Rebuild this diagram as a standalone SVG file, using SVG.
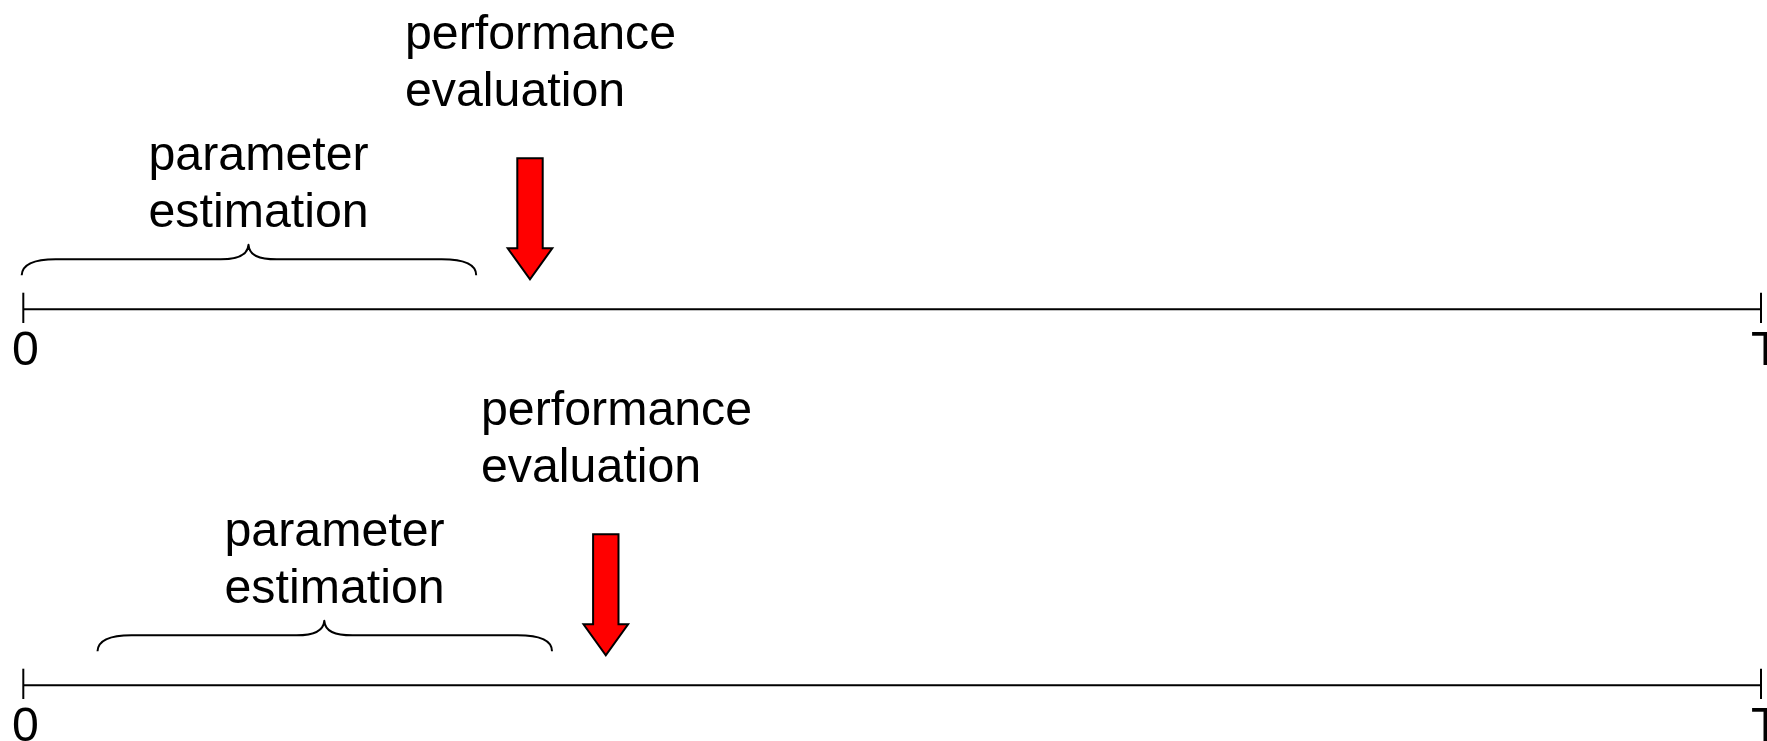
<svg xmlns="http://www.w3.org/2000/svg" width="1767" height="741" viewBox="0 0 1767 741">
  <defs>
    <style>
      .label { font-family: "Liberation Sans", Arial, sans-serif; font-size: 48.3px; fill: #000; }
      .axis { stroke: #000; stroke-width: 2; fill: none; }
      .brace { stroke: #000; stroke-width: 2; fill: none; stroke-linejoin: round; }
      .marker-arrow { fill: #ff0000; stroke: #000; stroke-width: 2; stroke-linejoin: miter; }
    </style>
    <!-- curly brace spanning the estimation window, origin at its left end -->
    <path id="brace-shape" d="M 0,16 C 0.5,5 12,0 34,0 L 199,0 C 216,0 226,-4 226.8,-14.5 C 227.6,-4 237,0 255,0 L 420,0 C 442,0 454.5,5 454.5,16"/>
    <!-- red down arrow, tip at origin -->
    <path id="arrow-shape" d="M -12.7,-121 L 12.7,-121 L 12.7,-31 L 22.3,-31 L 0,0 L -22.3,-31 L -12.7,-31 Z"/>
  </defs>

  <!-- timelines -->
  <g id="connectors">
    <g id="axis-1">
      <line class="axis" x1="23.3" y1="309.3" x2="1761" y2="309.3"/>
      <line class="axis" x1="23.3" y1="292.7" x2="23.3" y2="323"/>
      <line class="axis" x1="1761" y1="292.7" x2="1761" y2="323"/>
    </g>
    <g id="axis-2">
      <line class="axis" x1="23.3" y1="685.3" x2="1761" y2="685.3"/>
      <line class="axis" x1="23.3" y1="668.7" x2="23.3" y2="699"/>
      <line class="axis" x1="1761" y1="668.7" x2="1761" y2="699"/>
    </g>
  </g>

  <!-- first scenario -->
  <g id="tick-labels-1">
    <text class="label" x="12" y="365">0</text>
    <text class="label" x="1751" y="365">T</text>
  </g>
  <g id="estimation-1">
    <use href="#brace-shape" class="brace" x="21.7" y="259.3"/>
    <text class="label" x="148.5" y="170">parameter</text>
    <text class="label" x="148.5" y="226.5">estimation</text>
  </g>
  <g id="evaluation-1">
    <use href="#arrow-shape" class="marker-arrow" x="530" y="279.3"/>
    <text class="label" x="405" y="48.5">performance</text>
    <text class="label" x="405" y="105.5">evaluation</text>
  </g>

  <!-- second scenario, window shifted right -->
  <g id="tick-labels-2">
    <text class="label" x="12" y="741">0</text>
    <text class="label" x="1751" y="741">T</text>
  </g>
  <g id="estimation-2">
    <use href="#brace-shape" class="brace" x="97.5" y="635.3"/>
    <text class="label" x="224.5" y="546">parameter</text>
    <text class="label" x="224.5" y="602.5">estimation</text>
  </g>
  <g id="evaluation-2">
    <use href="#arrow-shape" class="marker-arrow" x="605.8" y="655.3"/>
    <text class="label" x="481" y="424.5">performance</text>
    <text class="label" x="481" y="481.5">evaluation</text>
  </g>
</svg>
